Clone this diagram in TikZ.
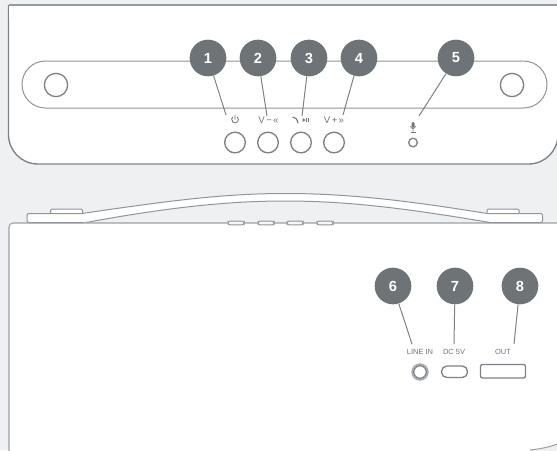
\documentclass[tikz,border=0pt]{standalone}
\usepackage{fontspec}
\setmainfont{Liberation Sans}
\definecolor{bg}{HTML}{EFF0F2}
\definecolor{ln}{HTML}{7C8287}
\definecolor{bad}{HTML}{6D7377}
\definecolor{txt}{HTML}{6E7377}
\tikzset{
  outline/.style={draw=ln,line width=1pt},
  thin outline/.style={draw=ln!85,line width=0.75pt},
  badge/.style={circle,fill=bad,text=white,minimum size=27.5pt,inner sep=0pt,font=\fontsize{11}{11}\selectfont\bfseries},
  ctrl/.style={circle,draw=ln,line width=1pt,fill=white,inner sep=0pt},
  leader/.style={draw=ln,line width=0.75pt},
  tag/.style={text=txt,inner sep=0pt,font=\fontsize{5.6}{6}\selectfont},
  sym/.style={text=txt,inner sep=0pt,font=\fontsize{7.2}{7}\selectfont},
}
\begin{document}
\begin{tikzpicture}[x=0.75pt,y=-0.75pt]
\useasboundingbox (0,0) rectangle (557,450);
\fill[bg] (0,0) rectangle (557,450);
\begin{scope}
\clip (0,0) rectangle (557,450);
% top panel
\draw[outline,fill=white,rounded corners=22pt] (8.5,-30) -- (8.5,164) -- (558,164) -- (558,-30);
\fill[white] (9,5) rectangle (557,20);
\fill[bg] (0,-2) rectangle (557,4.6);
\draw[draw=ln!80,line width=0.8pt] (8.5,5) -- (558,5);
% bottom body
\draw[draw=ln!75,line width=0.8pt,fill=white,rounded corners=3pt] (9,470) -- (9,223) -- (530,223) [sharp corners] -- (562,223) -- (562,400) -- (562,470) -- cycle;
\fill[bg] (530,450.5) .. controls (540,449.5) and (550,447) .. (557,444) -- (560,444) -- (560,455) -- (530,455) -- cycle;
\draw[draw=ln!75,line width=0.8pt] (530,450) .. controls (540,449) and (550,447) .. (557,444);
\end{scope}
% pill
\draw[thin outline,rounded corners=17.6pt] (22,61) rectangle (547,108);
\node[ctrl,minimum size=17.5pt] (knobL) at (56,85) {};
\node[ctrl,minimum size=17.5pt] (knobR) at (512,85) {};
% buttons
\node[ctrl,minimum size=15.5pt] (b1) at (235,142.5) {};
\node[ctrl,minimum size=15.5pt] (b2) at (268,142.5) {};
\node[ctrl,minimum size=15.5pt] (b3) at (301,142.5) {};
\node[ctrl,minimum size=15.5pt] (b4) at (334,142.5) {};
\node[ctrl,minimum size=6.5pt] (b5) at (413,142.5) {};
% icons
\draw[txt,line width=0.6pt] (237.2,116.9) arc[start angle=-50,end angle=230,radius=3.4] (235,115) -- (235,119.5);
\node[sym] (s2) at (268.5,119.8) {V\kern1.2pt−\kern0.8pt«};
\draw[txt,line width=0.8pt] (292.5,117) .. controls (295.5,117) and (297,119) .. (298,123);
\fill[txt] (302.5,118) -- (305.5,120) -- (302.5,122) -- cycle (306,118) rectangle (306.8,122) (308,118) rectangle (308.8,122);
\node[sym] (s4) at (334,119.8) {V\kern1.2pt+\kern0.8pt»};
\fill[txt,rounded corners=1pt] (411.5,122) rectangle (414.5,128);
\fill[txt] (410.5,131.5) rectangle (415.5,132.2);
\draw[txt,line width=0.5pt] (410.5,126) arc[start angle=180,end angle=0,radius=2.5] (413,128.5) -- (413,131.5);
\coordinate (c1) at (226,115);
\coordinate (c2) at (267,116);
\coordinate (c3) at (302,116);
\coordinate (c4) at (343,115);
\coordinate (c5) at (419,116);
\coordinate (c6) at (412,344);
\coordinate (c7) at (454,344);
\coordinate (c8) at (514,344);
% strap
\draw[fill=white,thin outline,rounded corners=1pt] (50.5,214) -- (50.5,209) -- (82.5,209) -- (82.5,214);
\draw[fill=white,thin outline,rounded corners=1pt] (487,214) -- (487,209) -- (519,209) -- (519,214);
\draw[fill=white,thin outline,rounded corners=1.5pt] (84,213.5) -- (27,213.5) -- (27,222.5) -- (84,222.5);
\draw[fill=white,thin outline,rounded corners=1.5pt] (487,213.5) -- (542.5,213.5) -- (542.5,222.5) -- (487,222.5);
\fill[white] (82,213.5) .. controls (180,199) and (230,193.5) .. (285,193.5) .. controls (350,193.5) and (410,201) .. (487,213.5) -- (490,222.5) .. controls (410,209) and (350,201) .. (285,201) .. controls (230,201) and (170,207) .. (86,222.5) -- cycle;
\draw[thin outline] (82,213.5) .. controls (180,199) and (230,193.5) .. (285,193.5) .. controls (350,193.5) and (410,201) .. (487,213.5);
\draw[thin outline] (86,222.5) .. controls (170,207) and (230,201) .. (285,201) .. controls (350,201) and (410,209) .. (490,222.5);
% slots
\foreach \x/\n in {228/a,258/b,287/c,317/d}
  \draw[thin outline,fill=bg!60!white,rounded corners=1.5pt] (\x,221.2) rectangle ++(16,3.6);
% ports
\node[circle,draw=ln!70,line width=1pt,fill=white,minimum size=12pt,inner sep=0pt] (jack) at (420,372) {};
\node[circle,draw=ln,line width=1pt,minimum size=9.5pt,inner sep=0pt] (jackin) at (jack) {};
\draw[outline,fill=white,rounded corners=4pt] (441.5,366) rectangle (467.5,377.5);
\draw[outline,fill=white,rounded corners=1.5pt] (480.5,364.5) rectangle (525.5,378);
\node[tag] (t6) at (420,352) {LINE IN};
\node[tag] (t7) at (454,352) {DC 5V};
\node[tag] (t8) at (503,352) {OUT};
% badges
\node[badge] (n1) at (208,58) {1};
\node[badge] (n2) at (258,58) {2};
\node[badge] (n3) at (309,58) {3};
\node[badge] (n4) at (359,58) {4};
\node[badge] (n5) at (456,58) {5};
\node[badge] (n6) at (393,286) {6};
\node[badge] (n7) at (455,286) {7};
\node[badge] (n8) at (520,286) {8};
\foreach \i in {1,...,8} \draw[leader] (n\i) -- (c\i);
\end{tikzpicture}
\end{document}
